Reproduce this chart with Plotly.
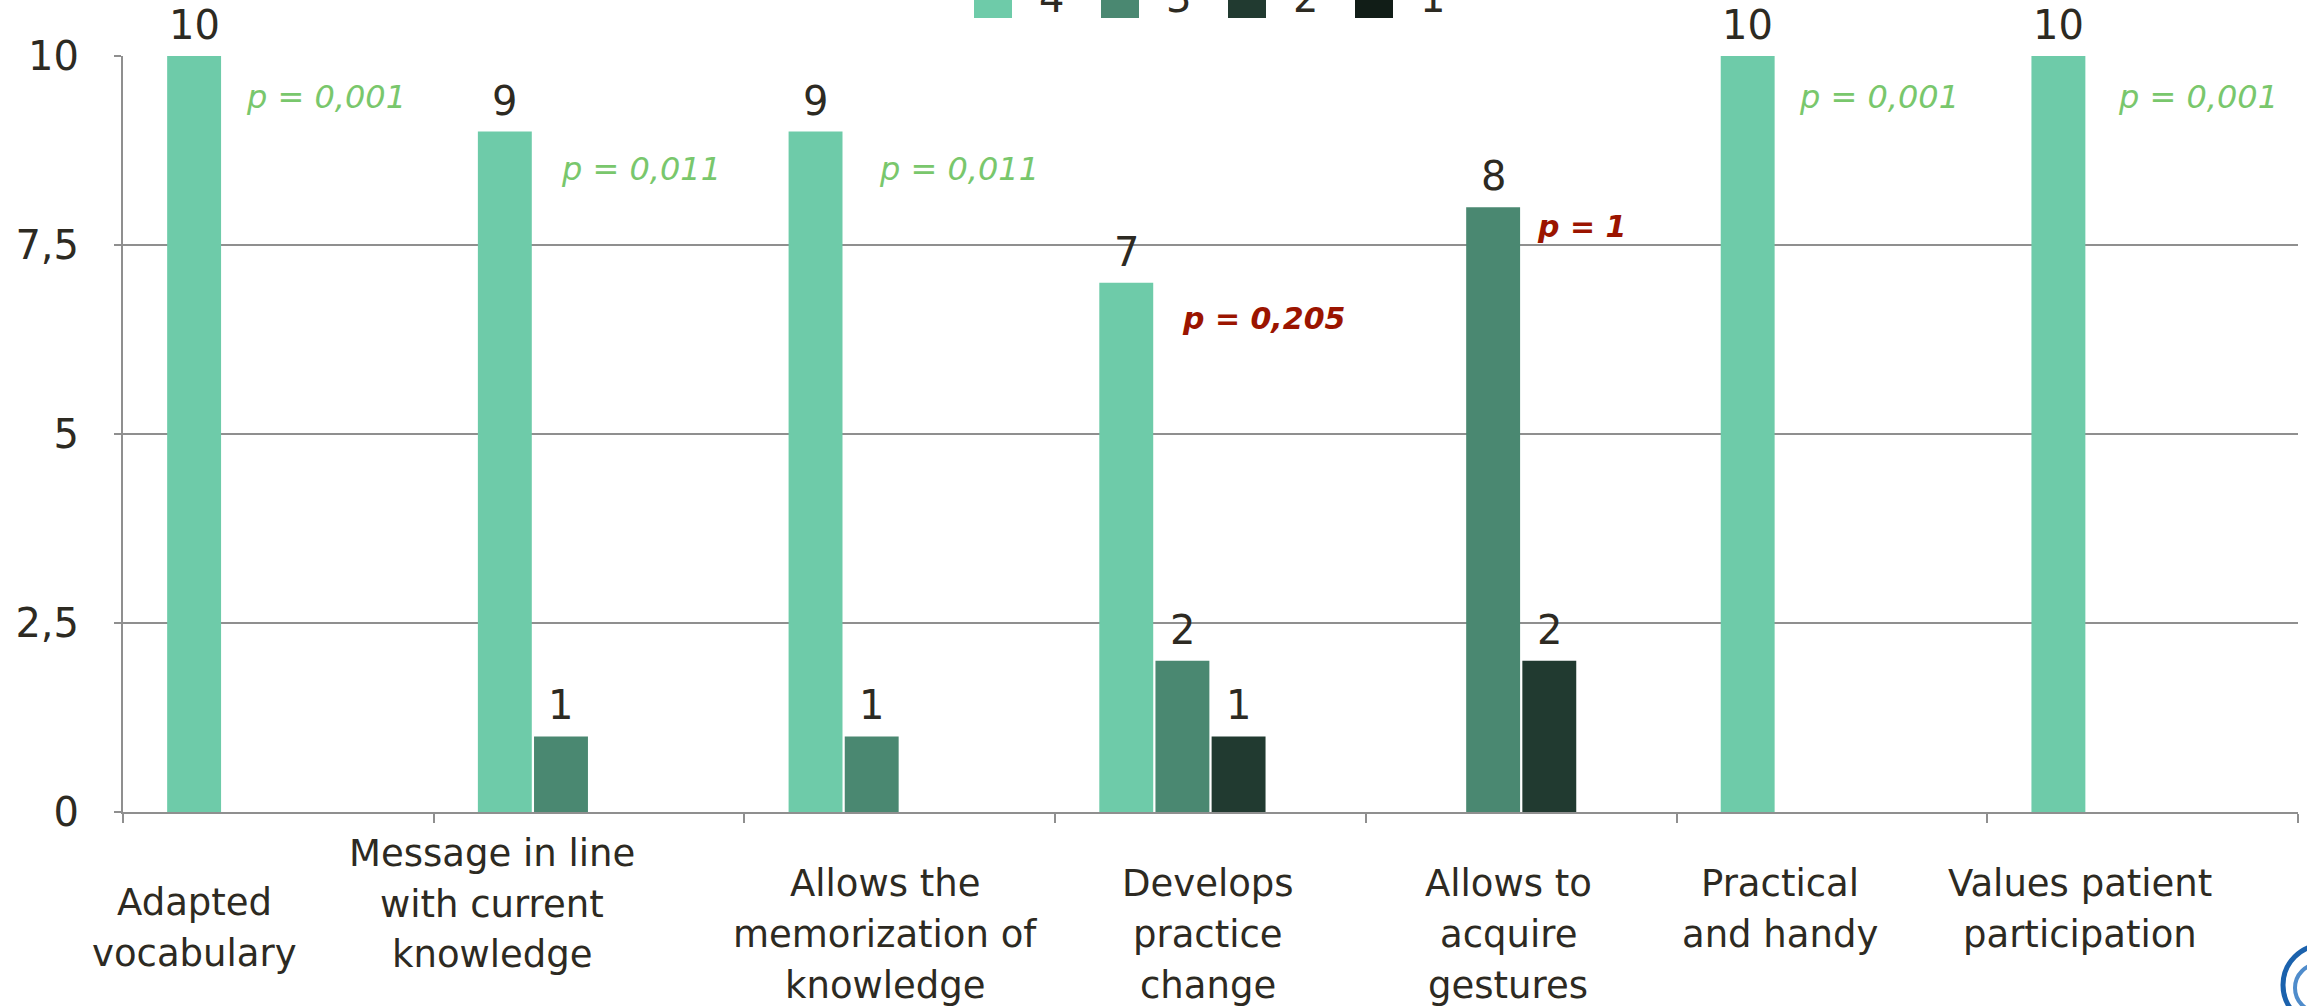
import plotly.graph_objects as go

# ---- data -------------------------------------------------------------
categories = [
    "Adapted vocabulary",
    "Message in line with current knowledge",
    "Allows the memorization of knowledge",
    "Develops practice change",
    "Allows to acquire gestures",
    "Practical and handy",
    "Values patient participation",
]
category_labels = [
    "Adapted<br>vocabulary",
    "Message in line<br>with current<br>knowledge",
    "Allows the<br>memorization of<br>knowledge",
    "Develops<br>practice<br>change",
    "Allows to<br>acquire<br>gestures",
    "Practical<br>and handy",
    "Values patient<br>participation",
]
series_names = ["4", "3", "2", "1"]
score_4 = [10, 9, 9, 7, 0, 10, 10]
score_3 = [0, 1, 1, 2, 8, 0, 0]
score_2 = [0, 0, 0, 1, 2, 0, 0]
score_1 = [0, 0, 0, 0, 0, 0, 0]
p_values = ["0,001", "0,011", "0,011", "0,205", "1", "0,001", "0,001"]
p_significant = [True, True, True, False, False, True, True]
y_ticks = [0, 2.5, 5, 7.5, 10]

# ---- styling ----------------------------------------------------------
series_values = [score_4, score_3, score_2, score_1]
series_colors = ["#6ECBA9", "#4A8871", "#213A30", "#111D17"]
TEXT = "#2d2a22"
GRID = "#8f8f8f"
GREEN_P = "#79c76c"
RED_P = "#9b1400"
FONT = "DejaVu Sans"

W, H = 2307, 1006
M_L, M_R, M_T, M_B = 123, 9, 56, 194
BARGAP, GROUPGAP = 0.277, 0.04


def paper_x(px):
    return (px - M_L) / (W - M_L - M_R)


def paper_y(py):
    return (H - M_B - py) / (H - M_T - M_B)


fig = go.Figure()
for name, vals, col in zip(series_names, series_values, series_colors):
    fig.add_bar(x=categories, y=vals, name=name, marker_color=col,
                marker_line_width=0)

annotations = []

# value labels above each bar
n_series = len(series_values)
slot = (1 - BARGAP) / n_series
for s, vals in enumerate(series_values):
    for i, v in enumerate(vals):
        if v > 0:
            annotations.append(dict(
                x=i + (s - (n_series - 1) / 2) * slot, y=v, xref="x", yref="y",
                text=str(v), showarrow=False, yanchor="bottom", yshift=6,
                font=dict(family=FONT, size=40, color=TEXT)))

# p-value labels next to the tallest bar of each group
p_dx = [-0.111, -0.097, -0.073, -0.098, 0.044, -0.112, -0.086]
p_y = [9.46, 8.51, 8.51, 6.53, 7.74, 9.46, 9.46]
for i, (p, sig) in enumerate(zip(p_values, p_significant)):
    if sig:
        txt = f"<i>p = {p}</i>"
        fnt = dict(family=FONT, size=32, color=GREEN_P)
    else:
        txt = f"<b><i>p = {p}</i></b>"
        fnt = dict(family=FONT, size=30, color=RED_P)
    annotations.append(dict(
        x=i + p_dx[i], y=p_y[i], xref="x", yref="y", text=txt,
        showarrow=False, xanchor="left", yanchor="middle", font=fnt))

# category labels under the axis, one annotation per text line
lab_dx = [-0.27, -0.311, -0.046, -0.007, -0.041, -0.166, -0.203]
lab_first_line = [902, 853, 883, 883, 883, 883, 883]
LAB_SIZE = 37
LAB_SPACING = 51
for i, lab in enumerate(category_labels):
    for k, line in enumerate(lab.split("<br>")):
        annotations.append(dict(
            x=i + lab_dx[i],
            y=paper_y(lab_first_line[i] + k * LAB_SPACING),
            xref="x", yref="paper", text=line, showarrow=False,
            xanchor="center", yanchor="middle",
            font=dict(family=FONT, size=LAB_SIZE, color=TEXT)))

# legend row along the top edge
shapes = []
for k, (name, col) in enumerate(zip(series_names, series_colors)):
    x0 = 974 + k * 127
    shapes.append(dict(type="rect", xref="paper", yref="paper",
                       x0=paper_x(x0), x1=paper_x(x0 + 38),
                       y0=paper_y(18), y1=paper_y(-20),
                       fillcolor=col, line_width=0))
    annotations.append(dict(
        x=paper_x(x0 + 77), y=paper_y(-2), xref="paper", yref="paper",
        text=name, showarrow=False, xanchor="center", yanchor="middle",
        font=dict(family=FONT, size=40, color=TEXT)))

# corner logo arcs
shapes.append(dict(type="circle", xref="paper", yref="paper",
                   x0=paper_x(2283), x1=paper_x(2363),
                   y0=paper_y(1025), y1=paper_y(945),
                   line=dict(color="#1b62ad", width=5)))
shapes.append(dict(type="circle", xref="paper", yref="paper",
                   x0=paper_x(2295), x1=paper_x(2343),
                   y0=paper_y(1012), y1=paper_y(964),
                   line=dict(color="#4f8ccb", width=4)))

fig.update_layout(
    width=W, height=H,
    margin=dict(l=M_L, r=M_R, t=M_T, b=M_B, pad=0, autoexpand=False),
    paper_bgcolor="white", plot_bgcolor="white",
    barmode="group", bargap=BARGAP, bargroupgap=GROUPGAP,
    separators=",.", showlegend=False,
    font=dict(family=FONT, color=TEXT),
    annotations=annotations, shapes=shapes,
)
fig.update_yaxes(
    range=[0, 10], tickvals=y_ticks, showgrid=True, gridcolor=GRID,
    gridwidth=2, zeroline=False, showline=True, linecolor=GRID, linewidth=2,
    ticks="outside", ticklen=7, tickcolor=GRID, tickwidth=2,
    ticklabelstandoff=27, tickfont=dict(family=FONT, size=40, color=TEXT),
)
fig.update_xaxes(
    range=[-0.5, 6.5], showgrid=False, zeroline=False, showline=True,
    linecolor=GRID, linewidth=2, ticks="outside", tickson="boundaries",
    ticklen=9, tickcolor=GRID, tickwidth=2, showticklabels=False,
)

fig.write_html("out.html")
